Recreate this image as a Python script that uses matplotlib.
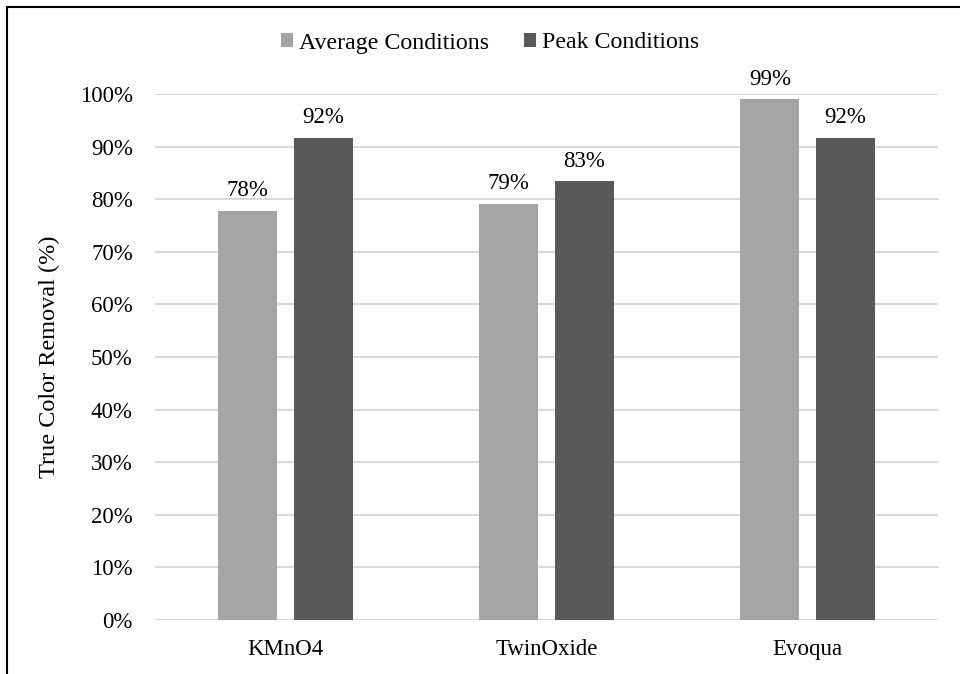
import numpy as np
import matplotlib.pyplot as plt
from matplotlib.lines import Line2D

categories = ['KMnO4', 'TwinOxide', 'Evoqua']
average = [0.778, 0.791, 0.99]
peak = [0.916, 0.834, 0.916]
avg_labels = ['78%', '79%', '99%']
peak_labels = ['92%', '83%', '92%']
yticks = np.arange(0, 1.01, 0.1)

plt.rcParams['font.family'] = ['Liberation Serif', 'DejaVu Serif']

fig = plt.figure(figsize=(9.6, 6.74), dpi=100)
ax = fig.add_axes([155/960, 54/674, 783/960, 526/674])

x = np.arange(len(categories))
w = 0.226
off = 0.144
b1 = ax.bar(x - off, average, w, color='#A5A5A5', label='Average Conditions', zorder=3)
b2 = ax.bar(x + off, peak, w, color='#595959', label='Peak Conditions', zorder=3)

for bars, labs in [(b1, avg_labels), (b2, peak_labels)]:
    for b, lab in zip(bars, labs):
        ax.annotate(lab, (b.get_x() + b.get_width()/2, b.get_height()),
                    xytext=(0, 7), textcoords='offset points',
                    ha='center', va='bottom', fontsize=16.5)

ax.set_xlim(-0.5, 2.5)
ax.set_ylim(0, 1)
ax.set_yticks(yticks)
ax.set_yticklabels([f'{int(round(t*100))}%' for t in yticks], fontsize=16.5)
ax.set_xticks(x)
ax.set_xticklabels(categories, fontsize=16.5)
ax.tick_params(axis='y', length=0, pad=16)
ax.tick_params(axis='x', length=0, pad=14)
ax.grid(axis='y', color='#D9D9D9', linewidth=1.5, zorder=0)
for s in ax.spines.values():
    s.set_visible(False)
ax.set_ylabel('True Color Removal (%)', fontsize=17.5, labelpad=14)

ax.legend(loc='center', bbox_to_anchor=(490/960, (674-43)/674), bbox_transform=fig.transFigure,
          ncol=2, frameon=False, fontsize=17.2, handlelength=0.5, handleheight=0.5,
          handletextpad=0.25, columnspacing=1.45)

# frame lines (left and top only, image is cropped)
fig.add_artist(Line2D([7/960, 7/960], [0, 1 - 7/674], color='black', linewidth=1.5,
                      transform=fig.transFigure))
fig.add_artist(Line2D([7/960, 1], [1 - 7/674, 1 - 7/674], color='black', linewidth=1.5,
                      transform=fig.transFigure))

fig.savefig('out.png', dpi=100)
